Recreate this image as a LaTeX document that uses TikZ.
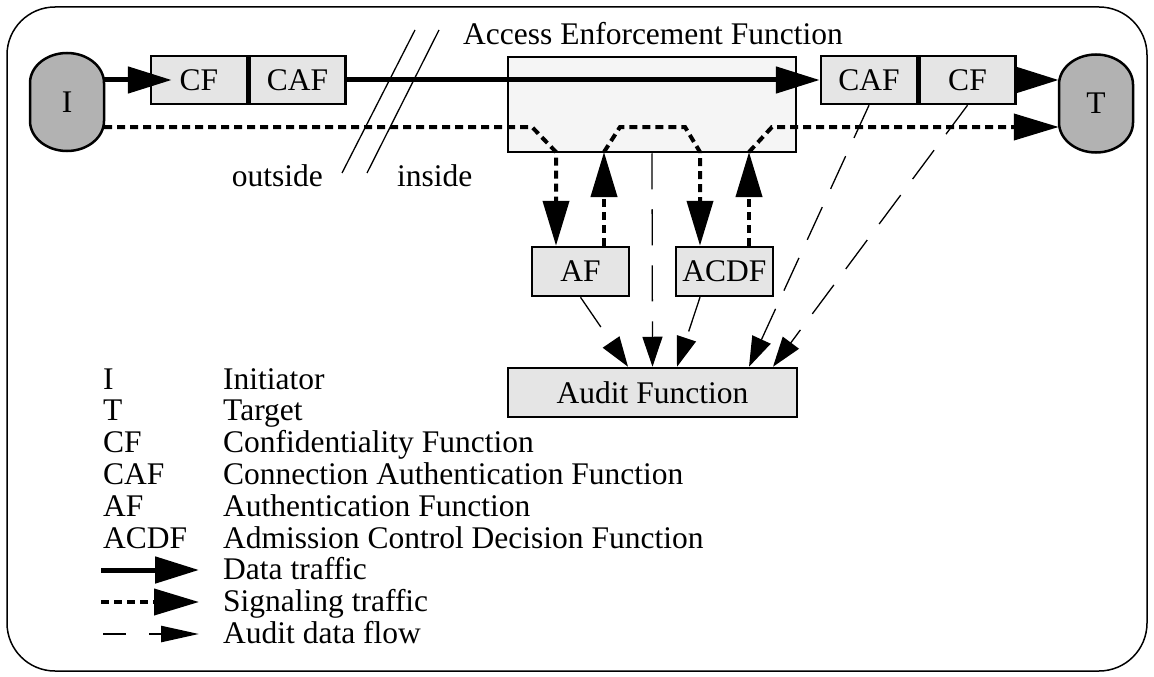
\documentclass[tikz,border=0pt]{standalone}
\usepackage{fontspec}
\setmainfont{Liberation Serif}
\usetikzlibrary{arrows.meta,positioning,calc}
\tikzset{
  box/.style={draw,line width=2.5pt,fill=gray!20,inner sep=0pt,minimum height=48pt},
  term/.style={inner sep=0pt,minimum width=74pt,minimum height=98pt},
  plain/.style={inner sep=0pt},
  data/.style={line width=5pt,-{Triangle[length=44pt,width=26pt]}},
  signal/.style={line width=4pt,dash pattern=on 8pt off 5pt,-{Triangle[length=45pt,width=26pt]}},
  audit/.style={line width=1.3pt,dash pattern=on 36pt off 20pt,-{Triangle[length=30pt,width=20pt]}},
}
% oval outline of an end point, drawn round a centre
\newcommand{\termshape}[1]{%
  \filldraw [fill=gray!60, line width=2.5pt] ($(#1)+(0,-49)$)
    .. controls +(20.4,0) and +(0,-16.6) .. ++(37,30) -- ++(0,38)
    .. controls +(0,16.6) and +(20.4,0) .. ++(-37,30)
    .. controls +(-20.4,0) and +(0,16.6) .. ++(-37,-30) -- ++(0,-38)
    .. controls +(0,-16.6) and +(-20.4,0) .. ++(37,-30) -- cycle;}
\begin{document}
\begin{tikzpicture}[x=1pt,y=-1pt,font=\fontsize{31.5}{36}\selectfont]
    \useasboundingbox (0,0) rectangle (1154,677);
    \draw [line width=1.5pt, rounded corners=48pt] (7,7) rectangle (1147,671);

    % initiator, target and the boxes on the path
    \coordinate (ic) at (67,102);
    \coordinate (tc) at (1096,103.5);
    \termshape{ic}
    \termshape{tc}
    \node [term] (init) at (ic) {I};
    \node [term] (targ) at (tc) {T};
    \node [box, minimum width=96pt] (cfl) at (199,80) {CF};
    \node [box, minimum width=96pt, right=0pt of cfl] (cafl) {CAF};
    \node [box, minimum width=96pt] (cafr) at (869,80) {CAF};
    \node [box, minimum width=96pt, right=0pt of cafr] (cfr) {CF};
    \node [draw, line width=2.5pt, fill=gray!8, minimum width=288pt, minimum height=95pt] (aef) at (652,104.5) {};
    \node [plain, anchor=base west] (aeflabel) at (463,45) {Access Enforcement Function};
    \node [box, minimum width=97pt, minimum height=49pt] (af) at (580.5,271.5) {AF};
    \node [box, minimum width=97pt, minimum height=49pt] (acdf) at (724.5,271.5) {ACDF};
    \node [box, minimum width=289pt, minimum height=49pt] (audit) at (652.5,392.5) {Audit Function};

    % outside / inside
    \draw [line width=1.3pt] (415,30) -- (342,173);
    \draw [line width=1.3pt] (439,30) -- (367,173);
    \node [plain, anchor=base east] (outside) at (323,186) {outside};
    \node [plain, anchor=base west] (inside) at (397,186) {inside};

    % data traffic
    \draw [data, shorten >=-22pt] (init.east |- cfl) -- (cfl.west);
    \draw [data] (cafl.east) -- (cafr.west);
    \draw [data, shorten <=-26pt] (cfr.east) -- (targ.west |- cfr);

    % signaling traffic
    \coordinate (s1) at (532,127);
    \coordinate (s2) at (556,152);
    \coordinate (s3) at (604,152);
    \coordinate (s4) at (620,127);
    \coordinate (s5) at (685,127);
    \coordinate (s6) at (700,152);
    \coordinate (s7) at (749,152);
    \coordinate (s8) at (772,127);
    \draw [signal] (init.east |- s1) -- (s1) -- (s2) -- (s2 |- af.north);
    \draw [signal] (s3 |- af.north) -- (s3);
    \draw [signal] (s3) -- (s4) -- (s5) -- (s6) -- (s6 |- acdf.north);
    \draw [signal] (s7 |- acdf.north) -- (s7);
    \draw [signal] (s7) -- (s8) -- (targ.west |- s8);

    % audit data
    \draw [audit] (af.south) -- ([xshift=-24.5pt]audit.north);
    \draw [audit] (aef.south) -- (audit.north);
    \draw [audit] (s6 |- acdf.south) -- ([xshift=24.5pt]audit.north);
    \draw [audit] (cafr.south) -- ([xshift=96.5pt]audit.north);
    \draw [audit] (cfr.south) -- ([xshift=120.5pt]audit.north);

    % legend
    \foreach \ab/\txt [count=\k from 0] in {I/Initiator, T/Target, CF/Confidentiality Function,
        CAF/Connection Authentication Function, AF/Authentication Function,
        ACDF/Admission Control Decision Function} {
        \node [plain, anchor=base west] (ab\k) at (103,{389+31.8*\k}) {\ab};
        \node [plain, anchor=base west] (tx\k) at (223,{389+31.8*\k}) {\txt};
    }
    \node [plain, anchor=base west] (tx6) at (223,{389+31.8*6}) {Data traffic};
    \node [plain, anchor=base west] (tx7) at (223,{389+31.8*7}) {Signaling traffic};
    \node [plain, anchor=base west] (tx8) at (223,{389+31.8*8}) {Audit data flow};
    \coordinate (ld0) at (101,570);
    \coordinate (ld1) at (199,570);
    \coordinate (ls0) at (101,602);
    \coordinate (ls1) at (199,602);
    \coordinate (la0) at (103,634);
    \coordinate (la1) at (199,634);
    \draw [data] (ld0) -- (ld1);
    \draw [signal] (ls0) -- (ls1);
    \draw [line width=2.5pt, dash pattern=on 23pt off 23pt, -{Triangle[length=38pt,width=16pt]}] (la0) -- (la1);
\end{tikzpicture}
\end{document}
